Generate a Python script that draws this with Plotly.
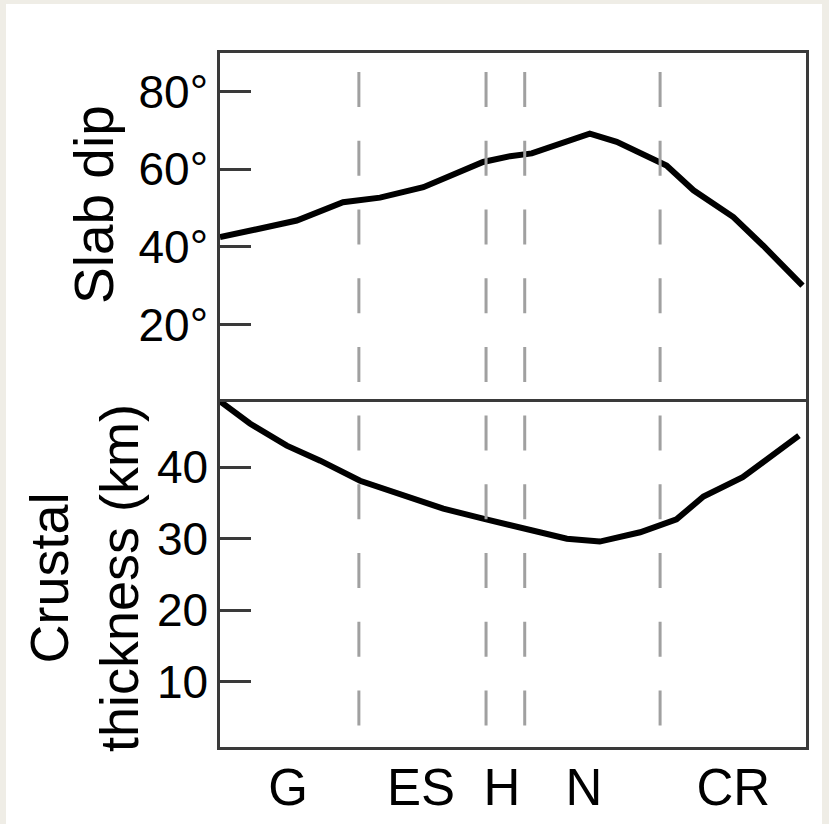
import plotly.graph_objects as go

# ---------------- data ----------------
# along-strike position (arbitrary units, 0 = left edge, 100 = right edge)
dip_x = [0, 13.1, 21.0, 23.3, 27.3, 34.7, 39.2, 44.9, 49.5, 53.2, 63.1, 67.7, 76.2, 80.8, 87.6, 92.7, 99.4]
dip_deg = [42.5, 46.8, 51.5, 52.0, 52.7, 55.4, 58.4, 61.9, 63.4, 64.1, 69.2, 67.1, 61.0, 54.6, 47.7, 40.3, 30.0]

crust_x = [0, 5.1, 11.4, 17.1, 23.9, 30.2, 38.1, 44.9, 49.5, 51.2, 59.2, 64.8, 71.7, 77.9, 82.5, 89.2, 98.8]
crust_km = [49.2, 46.1, 43.0, 40.9, 38.1, 36.3, 34.2, 32.8, 31.9, 31.4, 30.0, 29.6, 30.9, 32.7, 35.9, 38.6, 44.4]

boundaries = [23.7, 45.4, 52.0, 75.1]

segment_labels = ["G", "ES", "H", "N", "CR"]
segment_pos = [11.6, 34.3, 48.1, 62.1, 87.6]

dip_ticks = [20, 40, 60, 80]
dip_ticktext = ["20°", "40°", "60°", "80°"]
crust_ticks = [10, 20, 30, 40]

# ---------------- figure ----------------
W, H = 829, 824
L, R, T, B = 220, 23, 53, 77
PW, PH = W - L - R, H - T - B
split = (747 - 402) / PH

FONT = "Liberation Sans, Arial, Helvetica, sans-serif"
AX = "#3a3a3a"
BEIGE = "#efede6"

fig = go.Figure()
fig.add_trace(go.Scatter(x=dip_x, y=dip_deg, mode="lines",
                         line=dict(color="black", width=6),
                         xaxis="x", yaxis="y", showlegend=False))
fig.add_trace(go.Scatter(x=crust_x, y=crust_km, mode="lines",
                         line=dict(color="black", width=6),
                         xaxis="x2", yaxis="y2", showlegend=False))


def px2paper_x(px):
    return (px - L) / PW


def px2paper_y(py):
    return 1 - (py - T) / PH


shapes = [dict(type="rect", xref="paper", yref="paper", layer="below",
               x0=px2paper_x(6), x1=px2paper_x(822),
               y0=px2paper_y(830), y1=px2paper_y(4),
               fillcolor="white", line=dict(width=0))]
for bx in boundaries:
    shapes.append(dict(type="line", xref="x", yref="y", x0=bx, x1=bx, y0=85.1, y1=4.9,
                       line=dict(color="#a0a0a0", width=3, dash="35px,33.75px")))
    shapes.append(dict(type="line", xref="x2", yref="y2", x0=bx, x1=bx, y0=47.2, y1=3.7,
                       line=dict(color="#a0a0a0", width=3, dash="35px,33.75px")))

annotations = [
    dict(text="Slab dip", xref="paper", yref="paper",
         x=px2paper_x(94), y=px2paper_y(205), textangle=-90,
         showarrow=False, font=dict(family=FONT, size=55, color="black"),
         xanchor="center", yanchor="middle"),
    dict(text="Crustal<br>thickness (km)", xref="paper", yref="paper",
         x=px2paper_x(84), y=px2paper_y(578), textangle=-90,
         showarrow=False, font=dict(family=FONT, size=54, color="black"),
         xanchor="center", yanchor="middle"),
]

fig.update_layout(
    width=W, height=H,
    margin=dict(l=L, r=R, t=T, b=B, autoexpand=False),
    paper_bgcolor=BEIGE,
    plot_bgcolor="white",
    font=dict(family=FONT, color="black"),
    shapes=shapes,
    annotations=annotations,
    xaxis=dict(domain=[0, 1], range=[0, 100], anchor="y", side="top",
               showline=True, mirror=False, linecolor=AX, linewidth=2.5,
               showgrid=False, zeroline=False, ticks="", showticklabels=False,
               automargin=False),
    yaxis=dict(domain=[split, 1], range=[0, 90], anchor="x",
               showline=True, mirror=True, linecolor=AX, linewidth=2.5,
               showgrid=False, zeroline=False, automargin=False,
               ticks="inside", ticklen=31, tickwidth=2.5, tickcolor=AX,
               tickvals=dip_ticks, ticktext=dip_ticktext,
               tickfont=dict(family=FONT, size=46, color="black")),
    xaxis2=dict(domain=[0, 1], range=[0, 100], anchor="y2",
                showline=True, mirror=True, linecolor=AX, linewidth=2.5,
                showgrid=False, zeroline=False, ticks="", automargin=False,
                tickvals=segment_pos, ticktext=segment_labels,
                ticklabelstandoff=-6,
                tickfont=dict(family=FONT, size=51, color="black")),
    yaxis2=dict(domain=[0, split], range=[0.9, 49.1], anchor="x2",
                showline=True, mirror=True, linecolor=AX, linewidth=2.5,
                showgrid=False, zeroline=False, automargin=False,
                ticks="inside", ticklen=31, tickwidth=2.5, tickcolor=AX,
                tickvals=crust_ticks,
                tickfont=dict(family=FONT, size=46, color="black")),
)

fig.write_html(
    "out.html",
    config={"displayModeBar": False},
    post_script="document.body.style.margin='0px';"
                "document.body.style.background='" + BEIGE + "';"
                "document.body.style.overflow='hidden';",
)
